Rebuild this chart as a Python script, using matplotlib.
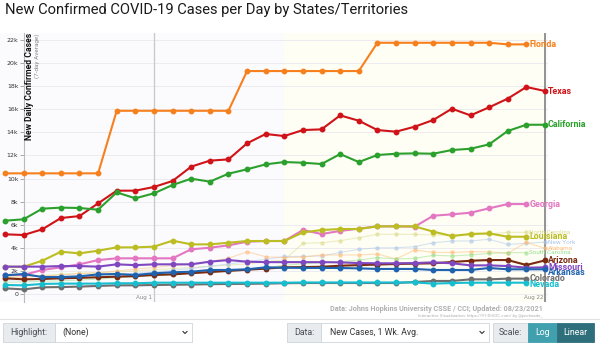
import matplotlib.pyplot as plt
from matplotlib.patches import Rectangle
import numpy as np

# Data (new cases per day, 7-day average), Jul 24 .. Aug 22 2021, index 8 = Aug 1
days = list(range(30))
florida = [10450] * 6 + [15870] * 7 + [19310] * 7 + [21760] * 7 + [21620, 21620]
texas = [5170, 5110, 5600, 6580, 6750, 7850, 8950, 8950, 9270, 9790, 11030, 11550, 11660, 13050, 13860,
         13680, 14200, 14260, 15470, 15010, 14200, 14060, 14490, 15070, 16050, 15470, 16170, 16920, 17930, 17580]
california = [6350, 6470, 7390, 7480, 7450, 7300, 8800, 8290, 8720, 9440, 9990, 9730, 10420, 10800, 11230,
              11430, 11370, 11260, 12120, 11430, 12040, 12150, 12180, 12150, 12470, 12580, 12960, 14120, 14660, 14660]
georgia = [1650, 1650, 2080, 2310, 2570, 2940, 3090, 3090, 3090, 3090, 3870, 4010, 4210, 4530, 4590,
           4590, 5540, 5200, 5460, 5660, 5860, 5860, 5830, 6780, 6900, 7040, 7420, 7790, 7790]
louisiana = [2360, 2360, 2880, 3660, 3520, 3750, 4040, 4040, 4100, 4620, 4300, 4300, 4440, 4590, 4590,
             4590, 5330, 5540, 5630, 5630, 5860, 5860, 5860, 5400, 5020, 5200, 5250, 4960, 4960]
missouri = [2370, 2370, 2370, 2420, 2420, 2370, 2570, 2500, 2570, 2570, 2570, 2800, 2940, 2800, 2760,
            2760, 2760, 2760, 2740, 2680, 2660, 2660, 2680, 2740, 2660, 2480, 2480, 2420, 2280, 2310]
arizona = [1360, 1270, 1300, 1360, 1400, 1450, 1500, 1550, 1650, 1700, 1800, 1900, 2000, 2100, 2200,
           2310, 2330, 2360, 2450, 2500, 2550, 2600, 2630, 2660, 2770, 2880, 2940, 2940, 2510, 2910]
arkansas = [1620, 1730, 1470, 1470, 1530, 1700, 1730, 1650, 1790, 1880, 1930, 2080, 2080, 2140, 2310,
            2280, 2260, 2260, 2250, 2220, 2170, 2170, 2170, 2080, 2080, 2080, 2250, 2140, 2140, 2140]
colorado = [490, 400, 580, 600, 640, 700, 750, 750, 780, 800, 820, 850, 870, 880, 900,
            930, 950, 950, 950, 950, 950, 950, 1040, 1130, 1130, 1270, 1270, 1330, 1330]
nevada = [780, 750, 870, 900, 900, 900, 930, 930, 980, 980, 980, 980, 980, 980, 980,
          980, 1000, 1000, 1000, 1000, 1000, 1000, 1000, 900, 950, 980, 980, 980, 980]
north_carolina = [1500, 1550, 1600, 1700, 1800, 1850, 1900, 2000, 2100, 2200, 2300, 2400, 2500, 2600, 2800,
                  2950, 4390, 4440, 4620, 4880, 5170, 5170, 5170, 5110, 5110, 5110, 5200, 5340, 5340]
new_york = [1200, 1250, 1300, 1400, 1500, 1600, 1700, 1800, 1900, 2050, 2200, 2400, 2600, 2800, 3000,
            3250, 3250, 3300, 3600, 3870, 4000, 4000, 4100, 4440, 4590, 4590, 4740, 4300, 4390, 4500]
alabama = [1400, 1450, 1550, 1650, 1750, 1850, 2000, 2150, 2300, 2450, 2600, 2800, 3090, 3660, 3230,
           3150, 3200, 3380, 3380, 3380, 3460, 3030, 3810, 3600, 3600, 3660, 3660, 3520, 4470, 3950]
south_carolina = [1000, 1050, 1100, 1150, 1200, 1300, 1400, 1500, 1600, 1700, 1800, 1900, 2000, 2100, 2250,
                  2500, 2600, 2700, 2800, 2940, 3150, 3030, 3090, 3350, 3300, 3380, 3520, 3580, 3580]

# name, values, color, label nudge in px (positive = down)
main = [
    ('Florida', florida, '#f7801e', 0),
    ('Texas', texas, '#cf1318', 0),
    ('California', california, '#2ca02c', 0),
    ('Georgia', georgia, '#e377c2', 0),
    ('Louisiana', louisiana, '#bcbd22', 0),
    ('Arizona', arizona, '#7a2a10', 0),
    ('Missouri', missouri, '#8048c0', 0),
    ('Arkansas', arkansas, '#1f62ad', 3),
    ('Colorado', colorado, '#6e6e6e', 0),
    ('Nevada', nevada, '#17becf', 2),
]
faint = [
    ('North Carolina', north_carolina, '#dbdb8d'),
    ('New York', new_york, '#aec7e8'),
    ('Alabama', alabama, '#ffbb78'),
    ('South Carolina', south_carolina, '#98df8a'),
]

W, H = 600, 345
fig = plt.figure(figsize=(6, 3.45), dpi=100)

def fx(px):
    return px / W

def fy(py):
    return 1 - py / H

# axes box in pixels
L, R, T, B = 24, 548, 33, 302
bg = '#fbfbfd'
fig.add_artist(Rectangle((0, fy(B)), fx(R), fy(T) - fy(B), facecolor=bg, edgecolor='none', zorder=0))
ax = fig.add_axes([fx(L), fy(B), fx(R) - fx(L), fy(T) - fy(B)])
step = 18.62
ax.set_xlim((L - 5) / step, (R - 5) / step)
per_px = 22000 / 254.0
ax.set_ylim((294 - B) * per_px, (294 - T) * per_px)
ax.set_facecolor(bg)
ax.axvspan(15, 29, color='#fefef4', zorder=0)

for s in ['top', 'right', 'bottom']:
    ax.spines[s].set_visible(False)
ax.spines['left'].set_color('#bbbbbb')
ax.set_yticks(range(0, 22001, 2000))
ax.set_yticklabels(['0'] + ['%dk' % (v // 1000) for v in range(2000, 22001, 2000)])
ax.tick_params(axis='y', labelsize=4.5, length=3, width=0.6, color='#999999', labelcolor='#333333', pad=1)
ax.set_xticks([])
ax.grid(axis='y', color='#ececf0', lw=0.7)
ax.set_axisbelow(True)

ax.axvline(8, color='#c8c8c8', lw=0.9, zorder=1)
ax.axvline(29, color='#8a8a8a', lw=1.3, zorder=1)
ax.text(7.92, -60, 'Aug 1', fontsize=4, color='#888888', ha='right', va='top')
ax.text(28.92, -60, 'Aug 22', fontsize=4, color='#888888', ha='right', va='top')

for name, vals, color in faint:
    x = days[:len(vals)]
    ax.plot(x, vals, color=color, lw=0.8, marker='o', ms=2.3, alpha=0.5, clip_on=False, zorder=2)
    ax.annotate(name, (x[-1], vals[-1]), xytext=(2.2, 0), textcoords='offset points',
                fontsize=4.6, color=color, va='center', ha='left', family='Roboto', annotation_clip=False)

for name, vals, color, nudge in main:
    x = days[:len(vals)]
    ax.plot(x, vals, color=color, lw=1.5, marker='o', ms=3.2, clip_on=False, zorder=3)
    ax.annotate(name, (x[-1], vals[-1]), xytext=(2.2, -nudge * 0.72), textcoords='offset points',
                fontsize=6.4, color=color, va='center', ha='left', family='Roboto',
                fontweight='bold', annotation_clip=False)

# axis title
fig.text(fx(30), fy(33), 'New Daily Confirmed Cases', rotation=90, fontsize=6.2, fontweight='bold',
         family='Roboto', ha='center', va='top', color='#111111')
fig.text(fx(37), fy(33), '(7-day Average)', rotation=90, fontsize=4.6, family='Roboto',
         ha='center', va='top', color='#888888')

# chart title
fig.text(fx(5), fy(10), 'New Confirmed COVID-19 Cases per Day by States/Territories', fontsize=10.6,
         family='Roboto', ha='left', va='center', color='#1a1a1a')

# source
fig.text(fx(543), fy(309), 'Data: Johns Hopkins University CSSE / CCI; Updated: 08/23/2021', fontsize=5.2,
         family='Roboto', fontweight='bold', ha='right', va='center', color='#b0b0b0')
fig.text(fx(543), fy(315.7), 'Interactive Visualization: https://91-DIVOC.com/ by @profwade_', fontsize=3.2,
         family='Roboto', ha='right', va='center', color='#b0b0b0')

# control bar
fig.add_artist(plt.Line2D([0, 1], [fy(319), fy(319)], color='#e2e2e2', lw=0.8))
y0, y1 = 323, 342
ym = (y0 + y1) / 2

def box(x0, x1, fc, ec='#ced4da'):
    fig.add_artist(Rectangle((fx(x0), fy(y1)), fx(x1) - fx(x0), fy(y0) - fy(y1), facecolor=fc,
                             edgecolor=ec, lw=0.6))

def label(xc, s, color='#495057', ha='center', size=6.3):
    fig.text(fx(xc), fy(ym), s, fontsize=size, family='Roboto', ha=ha, va='center', color=color)

def chevron(xc):
    fig.add_artist(plt.Line2D([fx(xc - 2), fx(xc), fx(xc + 2)], [fy(ym - 1), fy(ym + 1), fy(ym - 1)],
                              color='#333333', lw=0.8))

box(3, 55, '#e9ecef')
label(29, 'Highlight:')
box(55, 192, 'white')
label(62, '(None)', ha='left', color='#333333')
chevron(185)
box(287, 321, '#e9ecef')
label(304, 'Data:')
box(321, 489, 'white')
label(330, 'New Cases, 1 Wk. Avg.', ha='left', color='#333333')
chevron(482)
box(493, 528, '#e9ecef')
label(510.5, 'Scale:')
box(528, 557, '#41a0ae', ec='#41a0ae')
label(542.5, 'Log', color='white')
box(557, 594, '#2e6f7b', ec='#2e6f7b')
label(575.5, 'Linear', color='white')

fig.savefig('out.png', dpi=100)
